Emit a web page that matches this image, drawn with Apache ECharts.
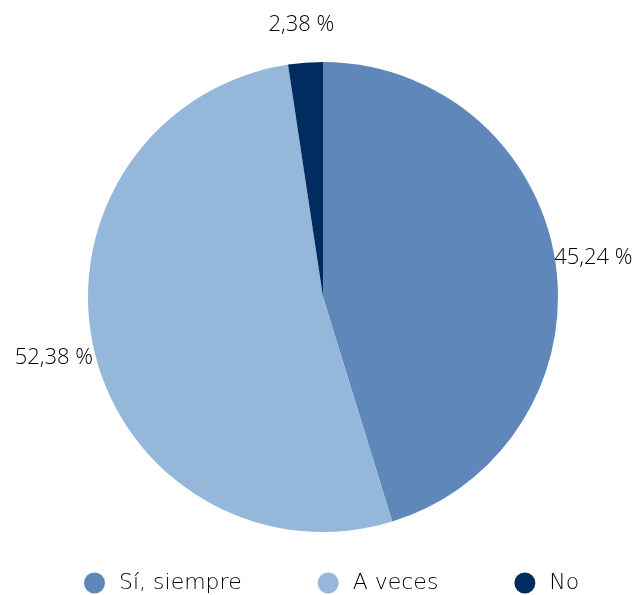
<!DOCTYPE html>
<html><head><meta charset="utf-8">
<script src="https://cdn.jsdelivr.net/npm/echarts@6/dist/echarts.min.js"></script>
<style>html,body{margin:0;padding:0;background:#fff}#c{width:637px;height:595px}</style>
</head><body><div id="c"></div>
<script>
const categories = ['Sí, siempre', 'A veces', 'No'];
const values = [45.24, 52.38, 2.38];
const colors = ['#5f87b9', '#95b8da', '#002c60'];
// small label nudges (dx, dy) per slice
const labelNudge = [[33, -4], [-35, 8], [1, -38]];

const LEGEND_FONT = "'DejaVu Sans', 'Open Sans', sans-serif";
const LABEL_FONT = "'Open Sans', 'DejaVu Sans', sans-serif";
const chart = echarts.init(document.getElementById('c'));
chart.setOption({
  animation: false,
  color: colors,
  legend: {
    top: 567,
    left: 79,
    icon: 'circle',
    itemWidth: 21,
    itemHeight: 21,
    itemGap: 76,
    textStyle: { fontFamily: LEGEND_FONT, fontSize: 22, color: '#000', fontWeight: 200, padding: [0, 0, 0, 9] },
    data: categories
  },
  series: [{
    type: 'pie',
    center: [323, 297],
    radius: [0, 235],
    startAngle: 90,
    clockwise: true,
    data: categories.map((c, i) => ({ name: c, value: values[i] })),
    label: {
      show: true,
      position: 'outside',
      overflow: 'none',
      formatter: p => p.value.toFixed(2).replace('.', ',') + ' %',
      fontFamily: LABEL_FONT,
      fontSize: 22,
      fontWeight: 300,
      color: '#000'
    },
    labelLine: { show: false, length: 0, length2: 0 },
    labelLayout: p => ({ align: 'center', verticalAlign: 'middle', dx: labelNudge[p.dataIndex][0], dy: labelNudge[p.dataIndex][1] }),
    itemStyle: { borderWidth: 0 }
  }]
});
</script></body></html>
